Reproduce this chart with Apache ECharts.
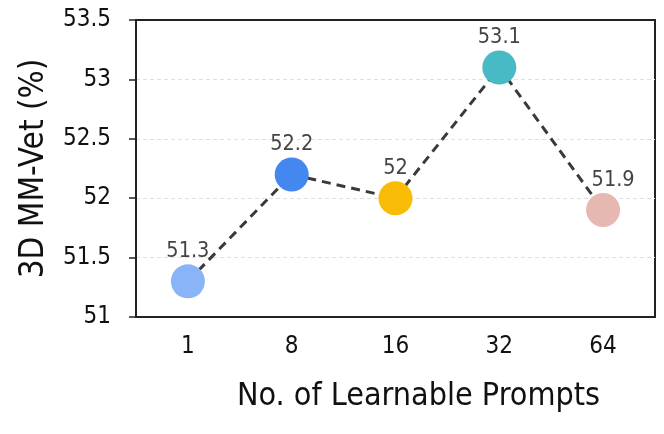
<!DOCTYPE html>
<html><head><meta charset="utf-8">
<script src="https://cdn.jsdelivr.net/npm/echarts@6/dist/echarts.min.js"></script>
<style>html,body{margin:0;padding:0;background:#fff}#c{width:664px;height:434px}</style>
</head><body><div id="c"></div>
<script>
const categories = ['1', '8', '16', '32', '64'];
const values = [51.3, 52.2, 52.0, 53.1, 51.9];
const pointColors = ['#8AB4F8', '#4487EE', '#F9BC06', '#48BAC5', '#E6B8B1'];
const yTicks = [51, 51.5, 52, 52.5, 53, 53.5];

const chart = echarts.init(document.getElementById('c'), null, {renderer: 'canvas'});
const font = '"DejaVu Sans Condensed", "DejaVu Sans", sans-serif';
chart.setOption({
  animation: false,
  backgroundColor: '#fff',
  grid: {left: 136, right: 9, top: 20, bottom: 117, show: true, borderColor: '#222', borderWidth: 2, backgroundColor: 'transparent'},
  xAxis: {
    type: 'category', data: categories, boundaryGap: true,
    name: 'No. of Learnable Prompts', nameLocation: 'middle', nameGap: 64,
    nameTextStyle: {fontFamily: font, fontSize: 32, color: '#111', padding: [0, 0, 0, 46]},
    axisLine: {lineStyle: {color: '#222', width: 2}},
    axisTick: {alignWithLabel: true, length: 6, lineStyle: {color: '#222', width: 1.5}},
    axisLabel: {fontFamily: font, fontSize: 24, color: '#111', margin: 18},
    splitLine: {show: false}
  },
  yAxis: {
    type: 'value', min: yTicks[0], max: yTicks[yTicks.length - 1], interval: 0.5,
    name: '3D MM-Vet (%)', nameLocation: 'middle', nameGap: 85,
    nameTextStyle: {fontFamily: font, fontSize: 33, color: '#111'},
    axisLine: {show: true, lineStyle: {color: '#222', width: 2}},
    axisTick: {show: true, length: 7, lineStyle: {color: '#222', width: 1.5}},
    axisLabel: {fontFamily: font, fontSize: 24, color: '#111', margin: 25, formatter: v => String(v)},
    splitLine: {show: true, showMaxLine: false, showMinLine: false, lineStyle: {color: '#e0e0e0', type: [4, 3], width: 1}}
  },
  series: [{
    type: 'line',
    data: values.map((v, i) => ({
      value: v,
      itemStyle: {color: pointColors[i], opacity: 1},
      label: i === values.length - 1 ? {offset: [10, 0]} : undefined
    })),
    symbol: 'circle', symbolSize: 34,
    lineStyle: {color: '#3a3a3a', width: 3, type: [9, 6]},
    itemStyle: {borderWidth: 0},
    label: {show: true, position: 'top', distance: 2, fontFamily: font, fontSize: 21.5, color: '#444', formatter: p => String(p.value)},
    z: 3
  }]
});
</script></body></html>
